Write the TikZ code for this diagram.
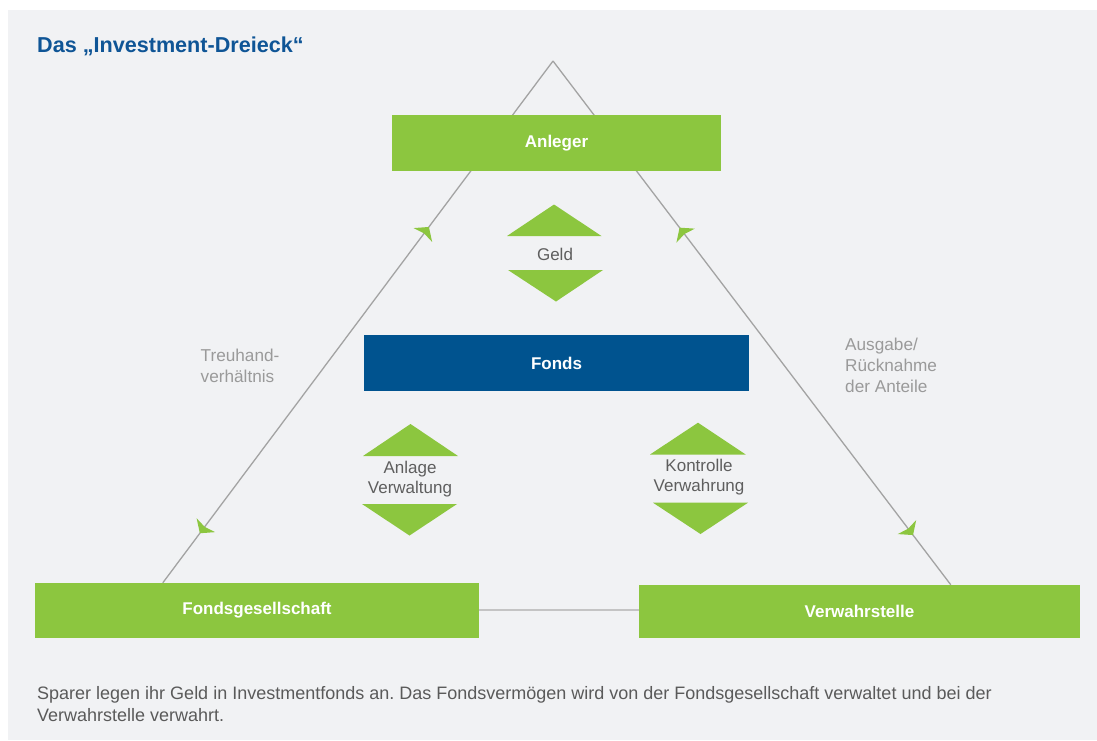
\documentclass[tikz,border=0pt]{standalone}
\usepackage{fontspec}
\setmainfont{Liberation Sans}
\usetikzlibrary{arrows.meta,decorations.markings}
\definecolor{bgc}{HTML}{F1F2F4}
\definecolor{grn}{HTML}{8CC63F}
\definecolor{blu}{HTML}{00538F}
\definecolor{ttl}{HTML}{0F5596}
\definecolor{lne}{HTML}{A3A3A3}
\definecolor{lne2}{HTML}{C4C4C4}
\definecolor{dtxt}{HTML}{5E5E5E}
\definecolor{ltxt}{HTML}{9A9A9A}
\definecolor{captxt}{HTML}{5A5A5A}
\frenchspacing
\tikzset{
  box/.style={fill=grn, text=white, inner sep=0pt,
    font=\fontsize{17}{20}\selectfont\bfseries},
  fondsbox/.style={box, fill=blu},
  flowtri/.style={fill=grn, draw=none},
  flowlabel/.style={text=dtxt, align=center, inner sep=0pt,
    font=\fontsize{17}{20}\selectfont},
  sidelabel/.style={text=ltxt, align=left, inner sep=0pt, anchor=base west,
    font=\fontsize{17.2}{21}\selectfont},
  captext/.style={text=captxt, inner sep=0pt, anchor=base west,
    font=\fontsize{18}{22}\selectfont},
  gtip/.tip={Stealth[length=10pt,width=23pt,inset=2pt,color=grn]},
  sideline/.style={draw=lne, line width=1.3pt, postaction={decorate},
    decoration={markings,
      mark=at position 0.095 with {\arrowreversed{gtip}},
      mark=at position 0.682 with {\arrow{gtip}}}},
  baseline/.style={draw=lne2, line width=2pt}
}
\begin{document}
\begin{tikzpicture}[x=1pt,y=-1pt]
\useasboundingbox (0,0) rectangle (1097,740);
\fill[bgc] (8,10) rectangle (1097,740);

% title
\node[anchor=base west, inner sep=0pt, text=ttl,
  font=\fontsize{21.6}{25}\selectfont\bfseries] (title) at (37,52)
  {Das „Investment-Dreieck“};

% bottom boxes
\node[box, minimum width=444pt, minimum height=54.5pt] (fg) at (257,610.25) {Fondsgesellschaft};
\node[box, minimum width=441pt, minimum height=52.5pt] (vs) at (859.5,611.25) {Verwahrstelle};
\coordinate (apex) at (553,61);

% triangle sides
\draw[sideline] ([xshift=128pt]fg.north west) -- (apex);
\draw[sideline] ([xshift=312pt]vs.north west) -- (apex);
\draw[baseline] (fg.east) -- (fg.east -| vs.west);

% top and middle boxes
\node[box, minimum width=329pt, minimum height=55.5pt] (anl) at (556.5,142.75) {Anleger};
\node[fondsbox, minimum width=385pt, minimum height=56pt] (fonds) at (556.5,363) {Fonds};

% flow markers
\fill[flowtri] (507,236) -- (554,204.5) -- (601.5,236) -- cycle;
\fill[flowtri] (508,270) -- (556,301.5) -- (603,270) -- cycle;
\node[flowlabel] (geld) at (555,254) {Geld};

\fill[flowtri] (363,456) -- (410.5,424) -- (458,456) -- cycle;
\fill[flowtri] (362,504) -- (409.5,535.5) -- (457,504) -- cycle;
\node[flowlabel] (anlage) at (410,479) {Anlage\\Verwaltung};

\fill[flowtri] (650,454.5) -- (698,422.7) -- (745.7,454.5) -- cycle;
\fill[flowtri] (653,502.7) -- (700.5,534) -- (748,502.7) -- cycle;
\node[flowlabel] (kontr) at (699,477) {Kontrolle\\Verwahrung};

% side labels
\node[sidelabel] (treu1) at (200.5,361) {Treuhand-};
\node[sidelabel] (treu2) at (200.5,382) {verhältnis};
\node[sidelabel] (aus1) at (845,350) {Ausgabe/};
\node[sidelabel] (aus2) at (845,371.5) {Rücknahme};
\node[sidelabel] (aus3) at (845,392.5) {der Anteile};

% caption
\node[captext] (cap1) at (37,699) {Sparer legen ihr Geld in Investmentfonds an. Das Fondsvermögen wird von der Fondsgesellschaft verwaltet und bei der};
\node[captext] (cap2) at (37,721.5) {Verwahrstelle verwahrt.};
\end{tikzpicture}
\end{document}
